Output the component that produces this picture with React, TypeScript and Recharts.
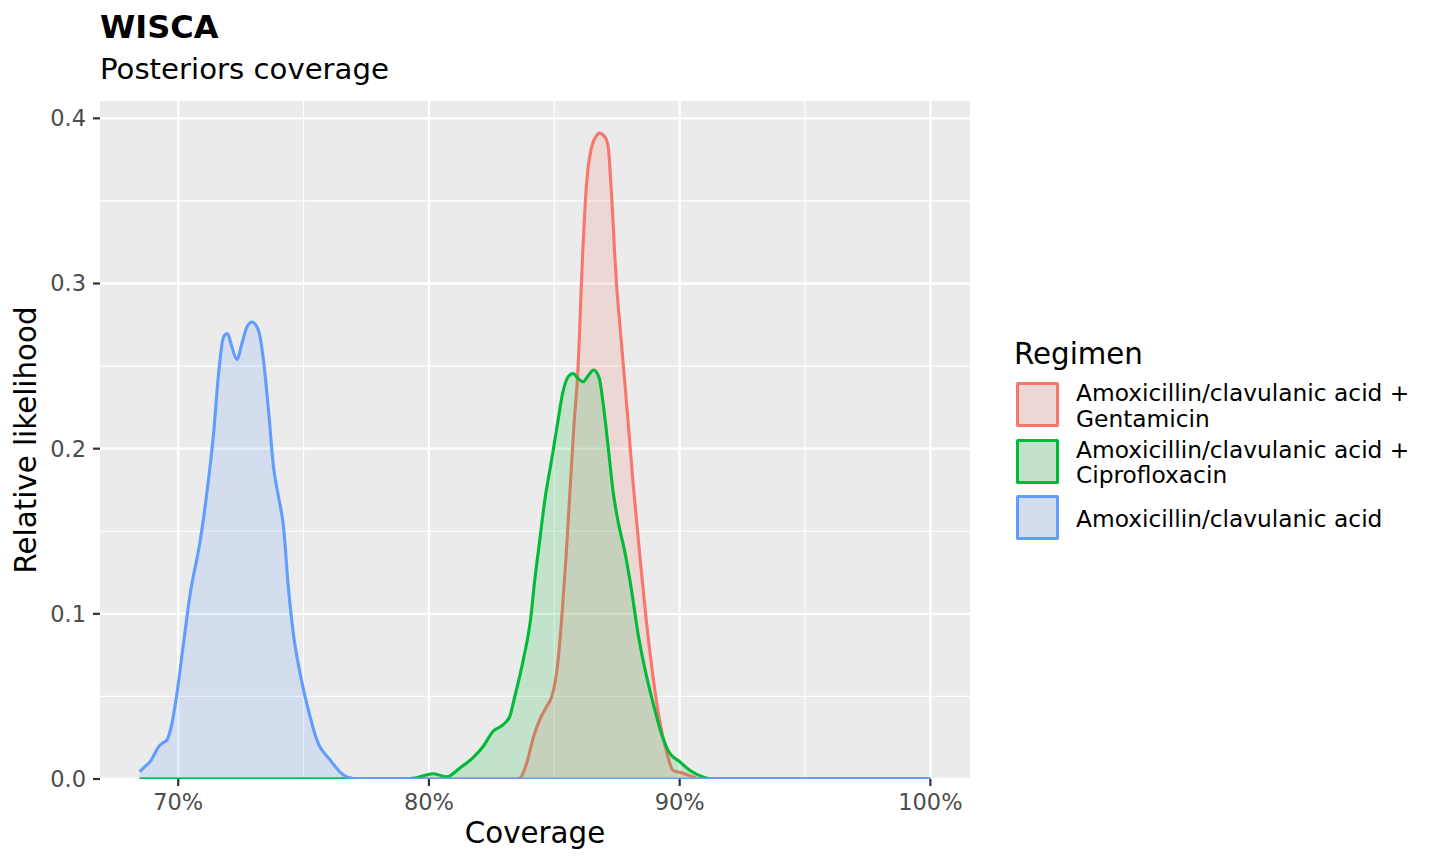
import React from "react";
import {
  ComposedChart,
  Area,
  XAxis,
  YAxis,
  CartesianGrid,
  Label,
} from "recharts";

// ---- Data ----
const seriesNames = [
  "Amoxicillin/clavulanic acid + Gentamicin",
  "Amoxicillin/clavulanic acid + Ciprofloxacin",
  "Amoxicillin/clavulanic acid",
];
const legendLines = [
  ["Amoxicillin/clavulanic acid +", "Gentamicin"],
  ["Amoxicillin/clavulanic acid +", "Ciprofloxacin"],
  ["Amoxicillin/clavulanic acid"],
];
const seriesColors = ["#F8766D", "#00BA38", "#619CFF"];

const gentamicin = [
  { x: 68.46, y: 0 },
  { x: 83.5, y: 0 },
  { x: 83.63, y: 0.0005 },
  { x: 83.89, y: 0.0092 },
  { x: 84.16, y: 0.025 },
  { x: 84.42, y: 0.036 },
  { x: 84.7, y: 0.044 },
  { x: 84.9, y: 0.05 },
  { x: 85.05, y: 0.06 },
  { x: 85.15, y: 0.072 },
  { x: 85.29, y: 0.0962 },
  { x: 85.46, y: 0.1325 },
  { x: 85.62, y: 0.173 },
  { x: 85.78, y: 0.2132 },
  { x: 85.95, y: 0.25 },
  { x: 86.02, y: 0.2758 },
  { x: 86.08, y: 0.2999 },
  { x: 86.15, y: 0.3242 },
  { x: 86.24, y: 0.3504 },
  { x: 86.35, y: 0.3705 },
  { x: 86.49, y: 0.3827 },
  { x: 86.69, y: 0.3897 },
  { x: 86.79, y: 0.3911 },
  { x: 87.02, y: 0.3887 },
  { x: 87.15, y: 0.3827 },
  { x: 87.24, y: 0.3645 },
  { x: 87.32, y: 0.3443 },
  { x: 87.4, y: 0.3201 },
  { x: 87.48, y: 0.2999 },
  { x: 87.61, y: 0.2758 },
  { x: 87.77, y: 0.2475 },
  { x: 87.95, y: 0.215 },
  { x: 88.14, y: 0.1798 },
  { x: 88.41, y: 0.1352 },
  { x: 88.67, y: 0.0959 },
  { x: 88.94, y: 0.0617 },
  { x: 89.2, y: 0.0355 },
  { x: 89.47, y: 0.0171 },
  { x: 89.73, y: 0.0053 },
  { x: 90.13, y: 0.0035 },
  { x: 90.53, y: 0.0013 },
  { x: 90.8, y: 0 },
  { x: 100, y: 0 },
];

const ciprofloxacin = [
  { x: 68.46, y: 0 },
  { x: 79.0, y: 0 },
  { x: 79.5, y: 0.0008 },
  { x: 80.17, y: 0.0032 },
  { x: 80.5, y: 0.002 },
  { x: 80.7, y: 0.0013 },
  { x: 81.24, y: 0.0067 },
  { x: 81.77, y: 0.0131 },
  { x: 82.16, y: 0.0197 },
  { x: 82.56, y: 0.0289 },
  { x: 82.96, y: 0.0329 },
  { x: 83.23, y: 0.0381 },
  { x: 83.39, y: 0.0478 },
  { x: 83.76, y: 0.072 },
  { x: 84.05, y: 0.0962 },
  { x: 84.22, y: 0.1204 },
  { x: 84.42, y: 0.1446 },
  { x: 84.62, y: 0.1688 },
  { x: 84.89, y: 0.193 },
  { x: 85.15, y: 0.2172 },
  { x: 85.33, y: 0.2334 },
  { x: 85.55, y: 0.2435 },
  { x: 85.75, y: 0.2455 },
  { x: 85.95, y: 0.2424 },
  { x: 86.15, y: 0.2405 },
  { x: 86.35, y: 0.2442 },
  { x: 86.57, y: 0.2476 },
  { x: 86.79, y: 0.2428 },
  { x: 86.95, y: 0.2271 },
  { x: 87.15, y: 0.2009 },
  { x: 87.34, y: 0.1746 },
  { x: 87.54, y: 0.1562 },
  { x: 87.81, y: 0.1378 },
  { x: 88.08, y: 0.1143 },
  { x: 88.34, y: 0.088 },
  { x: 88.61, y: 0.067 },
  { x: 88.94, y: 0.046 },
  { x: 89.27, y: 0.0276 },
  { x: 89.6, y: 0.0157 },
  { x: 90.0, y: 0.0105 },
  { x: 90.4, y: 0.0053 },
  { x: 90.93, y: 0.0013 },
  { x: 91.33, y: 0 },
  { x: 100, y: 0 },
];

const amoxiClav = [
  { x: 68.46, y: 0.0044 },
  { x: 68.7, y: 0.008 },
  { x: 68.88, y: 0.0105 },
  { x: 69.05, y: 0.015 },
  { x: 69.22, y: 0.0196 },
  { x: 69.4, y: 0.022 },
  { x: 69.55, y: 0.0236 },
  { x: 69.75, y: 0.0337 },
  { x: 69.95, y: 0.0519 },
  { x: 70.21, y: 0.0821 },
  { x: 70.48, y: 0.1124 },
  { x: 70.88, y: 0.1446 },
  { x: 71.14, y: 0.1729 },
  { x: 71.41, y: 0.2092 },
  { x: 71.61, y: 0.2455 },
  { x: 71.81, y: 0.2677 },
  { x: 71.96, y: 0.2697 },
  { x: 72.14, y: 0.2616 },
  { x: 72.34, y: 0.254 },
  { x: 72.54, y: 0.2636 },
  { x: 72.74, y: 0.2737 },
  { x: 72.94, y: 0.2767 },
  { x: 73.2, y: 0.2717 },
  { x: 73.4, y: 0.2536 },
  { x: 73.6, y: 0.2233 },
  { x: 73.8, y: 0.189 },
  { x: 74.0, y: 0.1708 },
  { x: 74.2, y: 0.1527 },
  { x: 74.39, y: 0.1164 },
  { x: 74.59, y: 0.0882 },
  { x: 74.86, y: 0.064 },
  { x: 75.19, y: 0.0418 },
  { x: 75.53, y: 0.0236 },
  { x: 76.06, y: 0.0115 },
  { x: 76.59, y: 0.0024 },
  { x: 77.0, y: 0.0003 },
  { x: 77.5, y: 0 },
  { x: 100, y: 0 },
];

const seriesData = [gentamicin, ciprofloxacin, amoxiClav];

const xTicks = [70, 80, 90, 100];
const xMinor = [75, 85, 95];
const yTicks = [0, 0.1, 0.2, 0.3, 0.4];
const yMinor = [0.05, 0.15, 0.25, 0.35];
const xDomain: [number, number] = [66.88, 101.58];
const yDomain: [number, number] = [0, 0.4105];

const FONT = "'DejaVu Sans', Verdana, sans-serif";
const FILL_ALPHA = 0.17;

const XTitle = (props: any) => {
  const vb = props.viewBox || {};
  return (
    <text
      x={vb.x + vb.width / 2}
      y={vb.y + 64}
      textAnchor="middle"
      fontSize={29.3}
      fontFamily={FONT}
      fill="#000000"
    >
      Coverage
    </text>
  );
};

const YTitle = (props: any) => {
  const vb = props.viewBox || {};
  const cx = vb.x + 36;
  const cy = vb.y + vb.height / 2;
  return (
    <text
      x={cx}
      y={cy}
      transform={`rotate(-90, ${cx}, ${cy})`}
      textAnchor="middle"
      fontSize={29.3}
      fontFamily={FONT}
      fill="#000000"
    >
      Relative likelihood
    </text>
  );
};

function hexA(hex: string, a: number) {
  const r = parseInt(hex.slice(1, 3), 16);
  const g = parseInt(hex.slice(3, 5), 16);
  const b = parseInt(hex.slice(5, 7), 16);
  return `rgba(${r},${g},${b},${a})`;
}

export default function App() {
  const tickStyle = { fontSize: 22.5, fontFamily: FONT, fill: "#4D4D4D" };
  return (
    <div
      style={{
        position: "absolute",
        left: 0,
        top: 0,
        width: 1440,
        height: 864,
        background: "#FFFFFF",
        fontFamily: FONT,
        overflow: "hidden",
      }}
    >
      <div
        style={{
          position: "absolute",
          left: 100,
          top: 11.2,
          fontSize: 32,
          lineHeight: "32px",
          fontWeight: "bold",
          color: "#000",
          whiteSpace: "nowrap",
        }}
      >
        WISCA
      </div>
      <div
        style={{
          position: "absolute",
          left: 100,
          top: 55.3,
          fontSize: 29.2,
          lineHeight: "29.2px",
          color: "#000",
          whiteSpace: "nowrap",
        }}
      >
        Posteriors coverage
      </div>

      <div style={{ position: "absolute", left: 0, top: 0 }}>
        <ComposedChart
          width={1440}
          height={864}
          margin={{ top: 101, right: 470, bottom: 0, left: 0 }}
        >
          <CartesianGrid
            fill="#EBEBEB"
            stroke="#FFFFFF"
            strokeWidth={2.3}
            horizontalValues={yTicks}
            verticalValues={xTicks}
          />
          <CartesianGrid
            fill="none"
            stroke="#FFFFFF"
            strokeWidth={1.1}
            horizontalValues={yMinor}
            verticalValues={xMinor}
          />
          <XAxis
            type="number"
            dataKey="x"
            domain={xDomain}
            allowDataOverflow
            ticks={xTicks}
            tickFormatter={(v: number) => `${v}%`}
            height={85}
            axisLine={false}
            tickSize={7}
            tickMargin={8}
            tickLine={{ stroke: "#333333", strokeWidth: 2.2 }}
            tick={tickStyle}
            interval={0}
          >
            <Label content={<XTitle />} />
          </XAxis>
          <YAxis
            type="number"
            domain={yDomain}
            allowDataOverflow
            ticks={yTicks}
            tickFormatter={(v: number) => v.toFixed(1)}
            width={100}
            axisLine={false}
            tickSize={7}
            tickMargin={7}
            tickLine={{ stroke: "#333333", strokeWidth: 2.2 }}
            tick={tickStyle}
            interval={0}
          >
            <Label content={<YTitle />} />
          </YAxis>
          {seriesData.map((d, i) => (
            <Area
              key={seriesNames[i]}
              name={seriesNames[i]}
              data={d}
              dataKey="y"
              type="monotone"
              stroke={seriesColors[i]}
              strokeWidth={3.1}
              fill={seriesColors[i]}
              fillOpacity={FILL_ALPHA}
              dot={false}
              activeDot={false}
              isAnimationActive={false}
            />
          ))}
        </ComposedChart>
      </div>

      <div
        style={{
          position: "absolute",
          left: 1014,
          top: 339.8,
          fontSize: 29.3,
          lineHeight: "29.3px",
          color: "#000",
          whiteSpace: "nowrap",
        }}
      >
        Regimen
      </div>
      {seriesNames.map((name, i) => {
        const cy = 404.5 + i * 56.65;
        return (
          <React.Fragment key={name}>
            <div
              style={{
                position: "absolute",
                left: 1016,
                top: cy - 22.5,
                width: 43,
                height: 45,
                boxSizing: "border-box",
                background: "#EBEBEB",
                borderRadius: 1.5,
                overflow: "hidden",
              }}
            >
              <div
                style={{
                  width: "100%",
                  height: "100%",
                  boxSizing: "border-box",
                  border: `3.2px solid ${seriesColors[i]}`,
                  borderRadius: 1.5,
                  background: hexA(seriesColors[i], FILL_ALPHA),
                }}
              />
            </div>
            <div
              style={{
                position: "absolute",
                left: 1076,
                top: cy + 0.8,
                transform: "translateY(-50%)",
                fontSize: 23.3,
                lineHeight: "25.3px",
                color: "#000",
                whiteSpace: "nowrap",
              }}
            >
              {legendLines[i].map((ln) => (
                <div key={ln}>{ln}</div>
              ))}
            </div>
          </React.Fragment>
        );
      })}
    </div>
  );
}
